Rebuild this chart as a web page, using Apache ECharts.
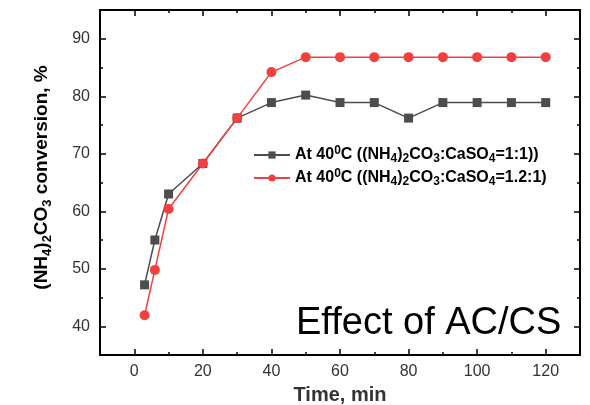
<!DOCTYPE html>
<html><head><meta charset="utf-8">
<script src="https://cdn.jsdelivr.net/npm/echarts@6/dist/echarts.min.js"></script>
<style>html,body{margin:0;padding:0;background:#fff}#c{width:590px;height:405px}</style>
</head><body><div id="c"></div>
<script>
const times = [3, 6, 10, 20, 30, 40, 50, 60, 70, 80, 90, 100, 110, 120];
const ratio11 = [47.2, 55.0, 63.0, 68.3, 76.2, 78.9, 80.2, 78.9, 78.9, 76.2, 78.9, 78.9, 78.9, 78.9];
const ratio121 = [41.9, 49.8, 60.4, 68.3, 76.2, 84.2, 86.8, 86.8, 86.8, 86.8, 86.8, 86.8, 86.8, 86.8];
const xMajor = [0, 20, 40, 60, 80, 100, 120];
const xMinor = [10, 30, 50, 70, 90, 110];
const yMajor = [40, 50, 60, 70, 80, 90];
const yMinor = [45, 55, 65, 75, 85];
const name11 = 'At 40{sup|0}C ((NH{sub|4}){sub|2}CO{sub|3}:CaSO{sub|4}=1:1))';
const name121 = 'At 40{sup|0}C ((NH{sub|4}){sub|2}CO{sub|3}:CaSO{sub|4}=1.2:1)';

const FONT = 'Liberation Sans, Arial, sans-serif';
const chart = echarts.init(document.getElementById('c'), null, {renderer: 'canvas'});
const line = {show: true, onZero: false, lineStyle: {color: '#000', width: 2}};
function xAx(pos, vals, len, labels, extra) {
  return Object.assign({
    type: 'value', position: pos, min: -10, max: 130,
    axisLine: line, splitLine: {show: false},
    axisTick: {show: true, inside: true, length: len, customValues: vals, lineStyle: {color: '#000', width: 1.5}},
    axisLabel: labels ? {show: true, customValues: vals, color: '#333', fontSize: 16, fontFamily: FONT, margin: 9} : {show: false}
  }, extra || {});
}
function yAx(pos, vals, len, labels, extra) {
  return Object.assign({
    type: 'value', position: pos, min: 35, max: 95,
    axisLine: line, splitLine: {show: false},
    axisTick: {show: true, inside: true, length: len, customValues: vals, lineStyle: {color: '#000', width: 1.5}},
    axisLabel: labels ? {show: true, customValues: vals, color: '#333', fontSize: 16, fontFamily: FONT, margin: 10} : {show: false}
  }, extra || {});
}
const richLegend = {
  sub: {fontSize: 12, fontWeight: 'bold', fontFamily: FONT, color: '#000', verticalAlign: 'bottom', lineHeight: 14},
  sup: {fontSize: 12, fontWeight: 'bold', fontFamily: FONT, color: '#000', verticalAlign: 'top', lineHeight: 14}
};
const richName = {
  sub: {fontSize: 13, fontWeight: 'bold', fontFamily: FONT, color: '#000', verticalAlign: 'bottom', lineHeight: 15}
};
chart.setOption({
  animation: false,
  backgroundColor: '#fff',
  grid: {left: 100, right: 10, top: 10, bottom: 50, outerBoundsMode: 'none', containLabel: false},
  xAxis: [
    xAx('bottom', xMajor, 6, true, {name: 'Time, min', nameLocation: 'middle', nameGap: 30,
      nameTextStyle: {fontSize: 20, fontWeight: 'bold', fontFamily: FONT, color: '#333'}}),
    xAx('top', xMajor, 6, false),
    xAx('bottom', xMinor, 3, false),
    xAx('top', xMinor, 3, false)
  ],
  yAxis: [
    yAx('left', yMajor, 6, true, {name: '(NH{sub|4}){sub|2}CO{sub|3} conversion, %', nameLocation: 'middle', nameGap: 46,
      nameTextStyle: {fontSize: 19, fontWeight: 'bold', fontFamily: FONT, color: '#000', lineHeight: 24, rich: richName, padding: [0, 0, 0, 10]}}),
    yAx('right', yMajor, 6, false),
    yAx('left', yMinor, 3, false),
    yAx('right', yMinor, 3, false)
  ],
  legend: {
    orient: 'vertical', left: 248, top: 140, itemWidth: 36, itemHeight: 9, itemGap: 3,
    textStyle: {fontSize: 16, fontWeight: 'bold', fontFamily: FONT, color: '#000', lineHeight: 20, rich: richLegend},
    data: [name11, name121]
  },
  series: [
    {name: name11, type: 'line', data: times.map((t, i) => [t, ratio11[i]]),
      symbol: 'rect', symbolSize: 9, itemStyle: {color: '#4d4d4d'}, lineStyle: {color: '#4d4d4d', width: 1.5}},
    {name: name121, type: 'line', data: times.map((t, i) => [t, ratio121[i]]),
      symbol: 'circle', symbolSize: 10, itemStyle: {color: '#f43f3f'}, lineStyle: {color: '#f43f3f', width: 1.5}}
  ],
  graphic: [
    {type: 'text', left: 296, top: 305, style: {text: 'Effect of AC/CS', fontSize: 38, fontFamily: FONT, fill: '#000'}}
  ]
});
</script></body></html>
